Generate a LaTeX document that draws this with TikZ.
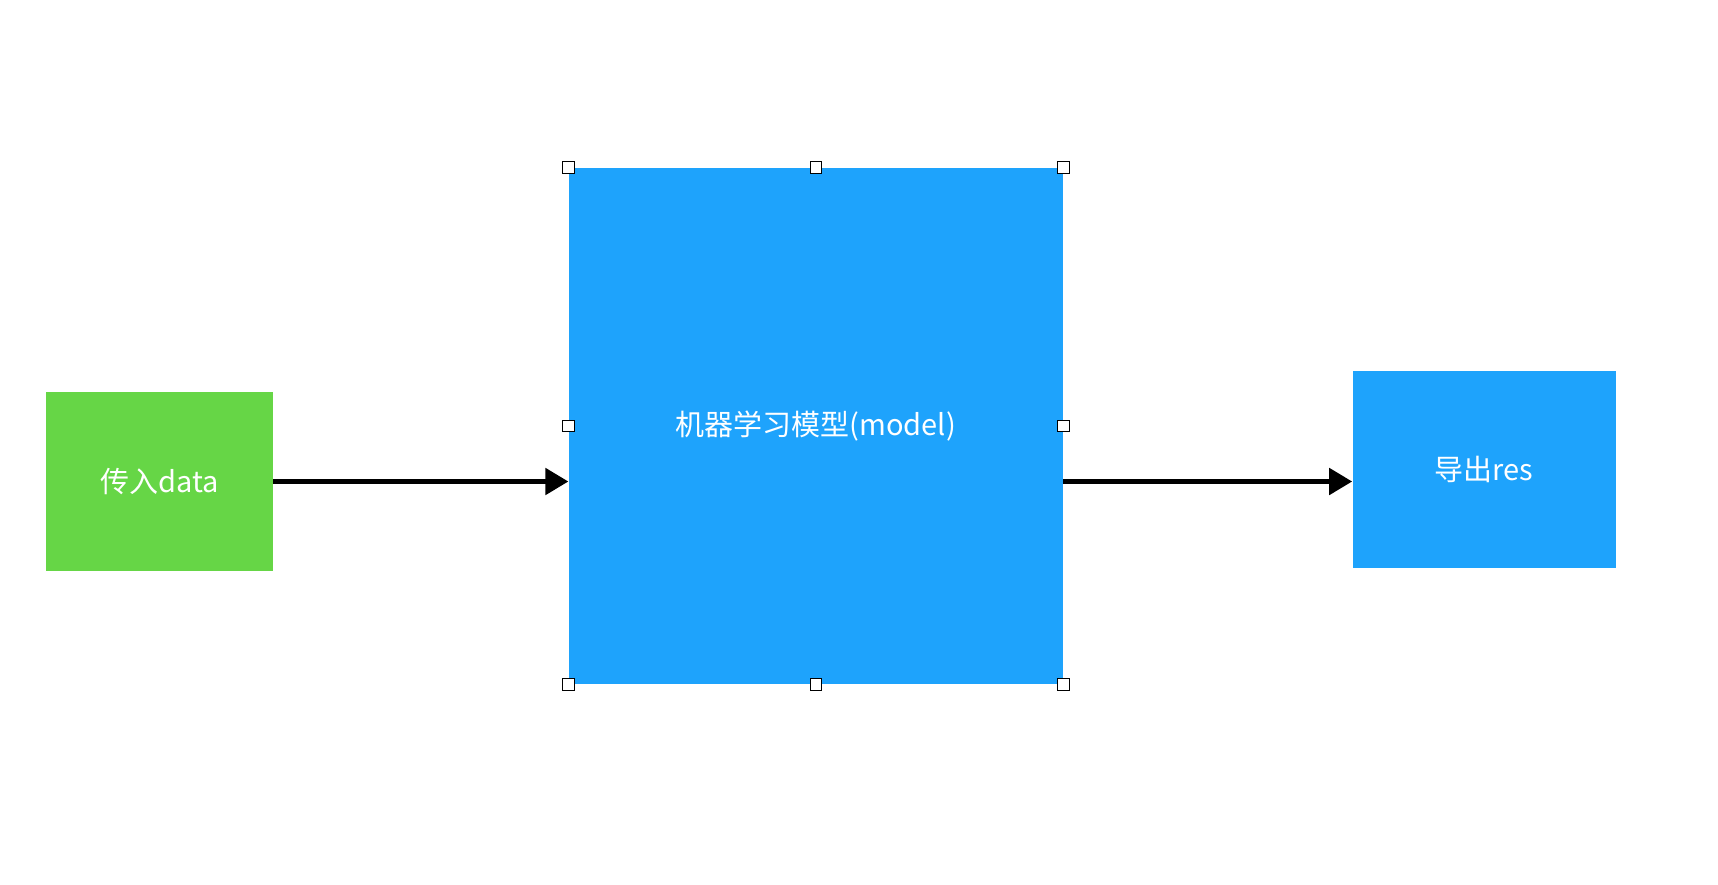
\documentclass[tikz,border=0pt]{standalone}
\usepackage{fontspec}
\setmainfont{Noto Sans CJK SC}
\usepackage{xcolor}
\usetikzlibrary{positioning,arrows.meta}

\definecolor{boxgreen}{HTML}{66D646}
\definecolor{boxblue}{HTML}{1EA3FC}

\begin{document}
\begin{tikzpicture}
				\tikzstyle{common} = [rectangle, text=white, inner sep=0, font=\fontsize{14.5pt}{17pt}\selectfont]
				\tikzstyle{greenbox} = [common, fill=boxgreen, minimum width=113.5pt, minimum height=89.4pt]
				\tikzstyle{bluebox} = [common, fill=boxblue, minimum width=247pt, minimum height=258pt]
				\tikzstyle{bluebox2} = [bluebox, minimum width=131.5pt, minimum height=98.4pt]
				\tikzstyle{handle} = [rectangle, draw, line width=0.5pt, fill=white, inner sep=0, minimum size=5.8pt]
				\tikzstyle{line} = [draw, line width=2.5pt, -{Triangle[length=11.5pt, width=13pt]}]
				\useasboundingbox (0,0) rectangle (859pt,-442pt);
				\node[greenbox] (input) at (79.75pt,-240.75pt) {传入data};
				\node[bluebox, right=147.5pt of input, yshift=27.75pt] (model) {机器学习模型(model)};
				\node[bluebox2, right=144.5pt of model, yshift=-21.75pt] (output) {导出res};

				\draw[line] (input.east) -- (model.west |- input.east);
				\draw[line] (model.east |- input.east) -- (output.west |- input.east);

				% selection handles
				\foreach \a in {north west, north, north east, west, east, south west, south, south east}
					\node[handle] at (model.\a) {};
			\end{tikzpicture}
\end{document}
